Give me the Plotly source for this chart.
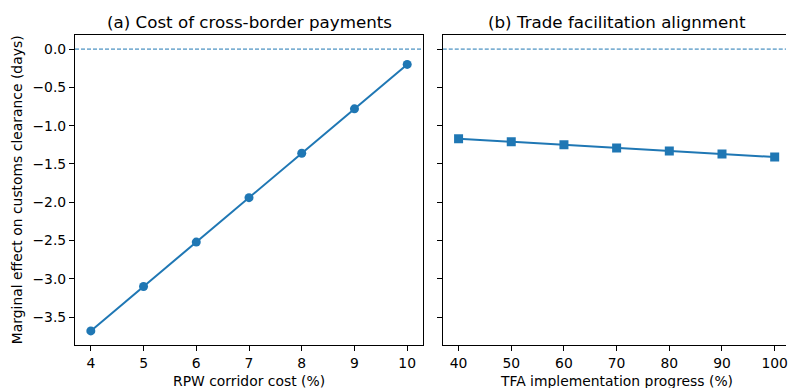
import plotly.graph_objects as go

# Panel (a): RPW corridor cost vs marginal effect
rpw_cost = [4, 5, 6, 7, 8, 9, 10]
rpw_effect = [-3.68, -3.10, -2.52, -1.94, -1.36, -0.78, -0.20]

# Panel (b): TFA implementation progress vs marginal effect
tfa_progress = [40, 50, 60, 70, 80, 90, 100]
tfa_effect = [-1.17, -1.21, -1.25, -1.29, -1.33, -1.37, -1.41]

y_tick_vals = [0.0, -0.5, -1.0, -1.5, -2.0, -2.5, -3.0, -3.5]
y_tick_labels = ["0.0", "\u22120.5", "\u22121.0", "\u22121.5", "\u22122.0", "\u22122.5", "\u22123.0", "\u22123.5"]

titles = ["(a) Cost of cross-border payments", "(b) Trade facilitation alignment"]
x_titles = ["RPW corridor cost (%)", "TFA implementation progress (%)"]
y_title = "Marginal effect on customs clearance (days)"

BLUE = "#1f77b4"
FONT = "DejaVu Sans"
W, H = 788, 388
L, R, T, B = 75, 0, 35, 43
pw = W - L - R
ph = H - T - B


def px_x(p):
    return (p - L) / pw


def px_y(p):
    return (H - B - p) / ph


dom_a = [0.0, px_x(424)]
dom_b = [px_x(443.8), 1.0]

fig = go.Figure()

fig.add_trace(go.Scatter(
    x=rpw_cost, y=rpw_effect, mode="lines+markers",
    line=dict(color=BLUE, width=2),
    marker=dict(symbol="circle", size=9, color=BLUE),
    xaxis="x", yaxis="y", showlegend=False,
))
fig.add_trace(go.Scatter(
    x=tfa_progress, y=tfa_effect, mode="lines+markers",
    line=dict(color=BLUE, width=2),
    marker=dict(symbol="square", size=9, color=BLUE),
    xaxis="x2", yaxis="y2", showlegend=False,
))

yr = [-3.864, 0.184]
common_axis = dict(
    showgrid=False, zeroline=False, showline=True, linecolor="black", linewidth=1.1,
    ticks="outside", ticklen=5, tickwidth=1.1, tickcolor="black",
    tickfont=dict(family=FONT, size=13.9, color="black"),
    ticklabeloverflow="allow",
)

fig.update_layout(
    width=W, height=H,
    margin=dict(l=L, r=R, t=T, b=B),
    paper_bgcolor="white", plot_bgcolor="white",
    font=dict(family=FONT, color="black"),
    xaxis=dict(domain=dom_a, range=[3.7, 10.3], tickvals=rpw_cost, mirror=True, anchor="y", **common_axis),
    yaxis=dict(domain=[0, 1], range=yr, tickvals=y_tick_vals, ticktext=y_tick_labels, mirror=True, anchor="x", **common_axis),
    xaxis2=dict(domain=dom_b, range=[37, 37 + (W - 443.8) / (317 / 60)], tickvals=tfa_progress, mirror=True, anchor="y2", **common_axis),
    yaxis2=dict(domain=[0, 1], range=yr, tickvals=y_tick_vals, showticklabels=False, mirror=False, anchor="x2", **common_axis),
)

# Zero reference lines
for xref in ["x domain", "x2 domain"]:
    yref = "y" if xref == "x domain" else "y2"
    fig.add_shape(type="line", xref=xref, yref=yref, x0=0, x1=1, y0=0, y1=0,
                  line=dict(color=BLUE, width=1, dash="4px,2px"), layer="below")

# Panel titles
centers = [(dom_a[0] + dom_a[1]) / 2, (dom_b[0] + px_x(792.5)) / 2]
for cx, t in zip(centers, titles):
    fig.add_annotation(text=t, xref="paper", yref="paper", x=cx, y=px_y(22),
                       xanchor="center", yanchor="middle", showarrow=False,
                       font=dict(family=FONT, size=16.7, color="black"))

# Axis titles
for cx, t in zip(centers, x_titles):
    fig.add_annotation(text=t, xref="paper", yref="paper", x=cx, y=px_y(381),
                       xanchor="center", yanchor="middle", showarrow=False,
                       font=dict(family=FONT, size=13.9, color="black"))

fig.add_annotation(text=y_title, xref="paper", yref="paper", x=px_x(17), y=0.5,
                   xanchor="center", yanchor="middle", textangle=-90, showarrow=False,
                   font=dict(family=FONT, size=13.9, color="black"))

fig.write_html("out.html")
